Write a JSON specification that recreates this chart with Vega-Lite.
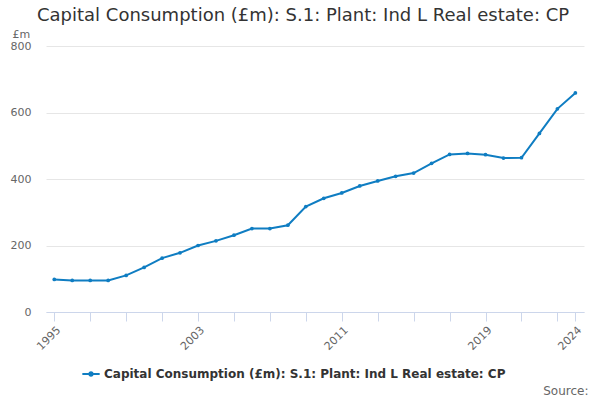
{
  "$schema": "https://vega.github.io/schema/vega-lite/v6.json",
  "autosize": "none",
  "width": 538,
  "height": 266,
  "padding": {"left": 46, "top": 46, "right": 16, "bottom": 88},
  "background": "white",
  "title": {
    "text": "Capital Consumption (£m): S.1: Plant: Ind L Real estate: CP",
    "anchor": "start",
    "frame": "group",
    "dx": -9,
    "offset": 3,
    "font": "DejaVu Sans",
    "fontSize": 18,
    "fontWeight": "normal",
    "color": "#333333"
  },
  "data": {
    "values": [
      {"year": 1995, "value": 98},
      {"year": 1996, "value": 95},
      {"year": 1997, "value": 95},
      {"year": 1998, "value": 95},
      {"year": 1999, "value": 110},
      {"year": 2000, "value": 134},
      {"year": 2001, "value": 162},
      {"year": 2002, "value": 178},
      {"year": 2003, "value": 200},
      {"year": 2004, "value": 214},
      {"year": 2005, "value": 231},
      {"year": 2006, "value": 251},
      {"year": 2007, "value": 251},
      {"year": 2008, "value": 261},
      {"year": 2009, "value": 317},
      {"year": 2010, "value": 342},
      {"year": 2011, "value": 358},
      {"year": 2012, "value": 379},
      {"year": 2013, "value": 394},
      {"year": 2014, "value": 408},
      {"year": 2015, "value": 418},
      {"year": 2016, "value": 447},
      {"year": 2017, "value": 474},
      {"year": 2018, "value": 477},
      {"year": 2019, "value": 473},
      {"year": 2020, "value": 463},
      {"year": 2021, "value": 464},
      {"year": 2022, "value": 537},
      {"year": 2023, "value": 611},
      {"year": 2024, "value": 659}
    ]
  },
  "mark": {
    "type": "line",
    "strokeWidth": 2,
    "point": {"filled": true, "size": 14, "color": "#0f7dc2"}
  },
  "encoding": {
    "x": {
      "field": "year",
      "type": "quantitative",
      "scale": {"domain": [1994.54, 2024.48], "nice": false, "zero": false},
      "axis": {
        "values": [1995, 1997, 1999, 2001, 2003, 2005, 2007, 2009, 2011, 2013, 2015, 2017, 2019, 2021, 2023, 2024],
        "labelExpr": "indexof([1995, 2003, 2011, 2019, 2024], datum.value) >= 0 ? datum.value : ''",
        "format": "d",
        "labelAngle": -45,
        "labelAlign": "right",
        "labelBaseline": "top",
        "labelFont": "DejaVu Sans",
        "labelFontSize": 11,
        "labelColor": "#666666",
        "labelPadding": 3,
        "labelOverlap": false,
        "labelFlush": false,
        "grid": false,
        "domainColor": "#ccd6eb",
        "tickColor": "#ccd6eb",
        "tickSize": 9,
        "title": "Source:",
        "titleFont": "DejaVu Sans",
        "titleFontSize": 12,
        "titleFontWeight": "normal",
        "titleColor": "#666666",
        "titleAnchor": null,
        "titleAlign": "right",
        "titleBaseline": "alphabetic",
        "titleX": 542,
        "titleY": 82
      }
    },
    "y": {
      "field": "value",
      "type": "quantitative",
      "scale": {"domain": [0, 800], "nice": false},
      "axis": {
        "values": [0, 200, 400, 600, 800],
        "domain": false,
        "ticks": false,
        "labelFont": "DejaVu Sans",
        "labelFontSize": 11,
        "labelColor": "#666666",
        "labelPadding": 15,
        "gridColor": "#e6e6e6",
        "title": "£m",
        "titleAngle": 0,
        "titleAlign": "left",
        "titleBaseline": "alphabetic",
        "titleX": -34,
        "titleY": -9,
        "titleFont": "DejaVu Sans",
        "titleFontSize": 11,
        "titleFontWeight": "normal",
        "titleColor": "#666666"
      }
    },
    "color": {
      "datum": "Capital Consumption (£m): S.1: Plant: Ind L Real estate: CP",
      "type": "nominal",
      "scale": {"range": ["#0f7dc2"]},
      "legend": {
        "title": null,
        "orient": "none",
        "legendX": 35,
        "legendY": 318,
        "symbolType": "M-1,0L1,0M-0.2,0A0.2,0.2 0 1,0 0.2,0A0.2,0.2 0 1,0 -0.2,0",
        "symbolSize": 300,
        "symbolStrokeWidth": 2,
        "labelFont": "DejaVu Sans",
        "labelFontSize": 12,
        "labelFontWeight": "bold",
        "labelColor": "#333333",
        "labelOffset": 3,
        "labelLimit": 600
      }
    }
  },
  "config": {
    "view": {"stroke": null}
  }
}
